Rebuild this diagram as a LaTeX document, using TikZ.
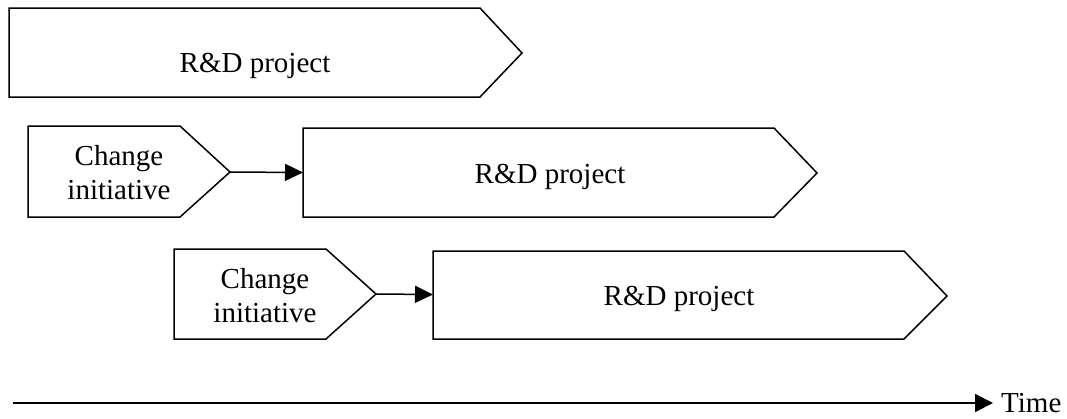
\documentclass[tikz,border=0pt]{standalone}
\usepackage{fontspec}
\setmainfont{Liberation Serif}
\usetikzlibrary{arrows.meta}
\begin{document}
\begin{tikzpicture}[x=1pt,y=-1pt,
  shapebox/.style={draw=black,line width=1.5pt,line join=miter,fill=white},
  lbl/.style={font=\fontsize{29}{34}\selectfont,inner sep=0pt},
  conn/.style={line width=1.5pt,-{Triangle[length=18pt,width=17pt]}},
  axis/.style={line width=1.8pt,-{Triangle[length=18pt,width=18pt]}}]
\useasboundingbox (0,0) rectangle (1067,418);
% top R&D project
\draw[shapebox] (9,8) -- (480,8) -- (522,53) -- (480,97) -- (9,97) -- cycle;
\node[lbl,anchor=base] (rd1) at (255,72) {R\&D project};
% row 2
\draw[shapebox] (28,126) -- (180,126) -- (230,172) coordinate (c1tip) -- (180,217) -- (28,217) -- cycle;
\node[lbl,align=center] (ci1) at (119,172.5) {Change\\initiative};
\draw[shapebox] (303,128) -- (774,128) -- (817,173) -- (774,217) -- (303,217) -- cycle;
\coordinate (p2w) at (303,172.5);
\node[lbl,anchor=base] (rd2) at (550,183) {R\&D project};
\draw[conn] (c1tip) -- (p2w);
% row 3
\draw[shapebox] (174,249) -- (326,249) -- (376,294) coordinate (c2tip) -- (326,339) -- (174,339) -- cycle;
\node[lbl,align=center] (ci2) at (265,295.5) {Change\\initiative};
\draw[shapebox] (433,251) -- (904,251) -- (947,296) -- (904,339) -- (433,339) -- cycle;
\coordinate (p3w) at (433,294.5);
\node[lbl,anchor=base] (rd3) at (679,305) {R\&D project};
\draw[conn] (c2tip) -- (p3w);
% time axis
\coordinate (ax0) at (13,403);
\node[lbl,anchor=base west] (time) at (1001,412) {Time};
\coordinate (ax1) at (993,403);
\draw[axis] (ax0) -- (ax1);
\end{tikzpicture}
\end{document}
